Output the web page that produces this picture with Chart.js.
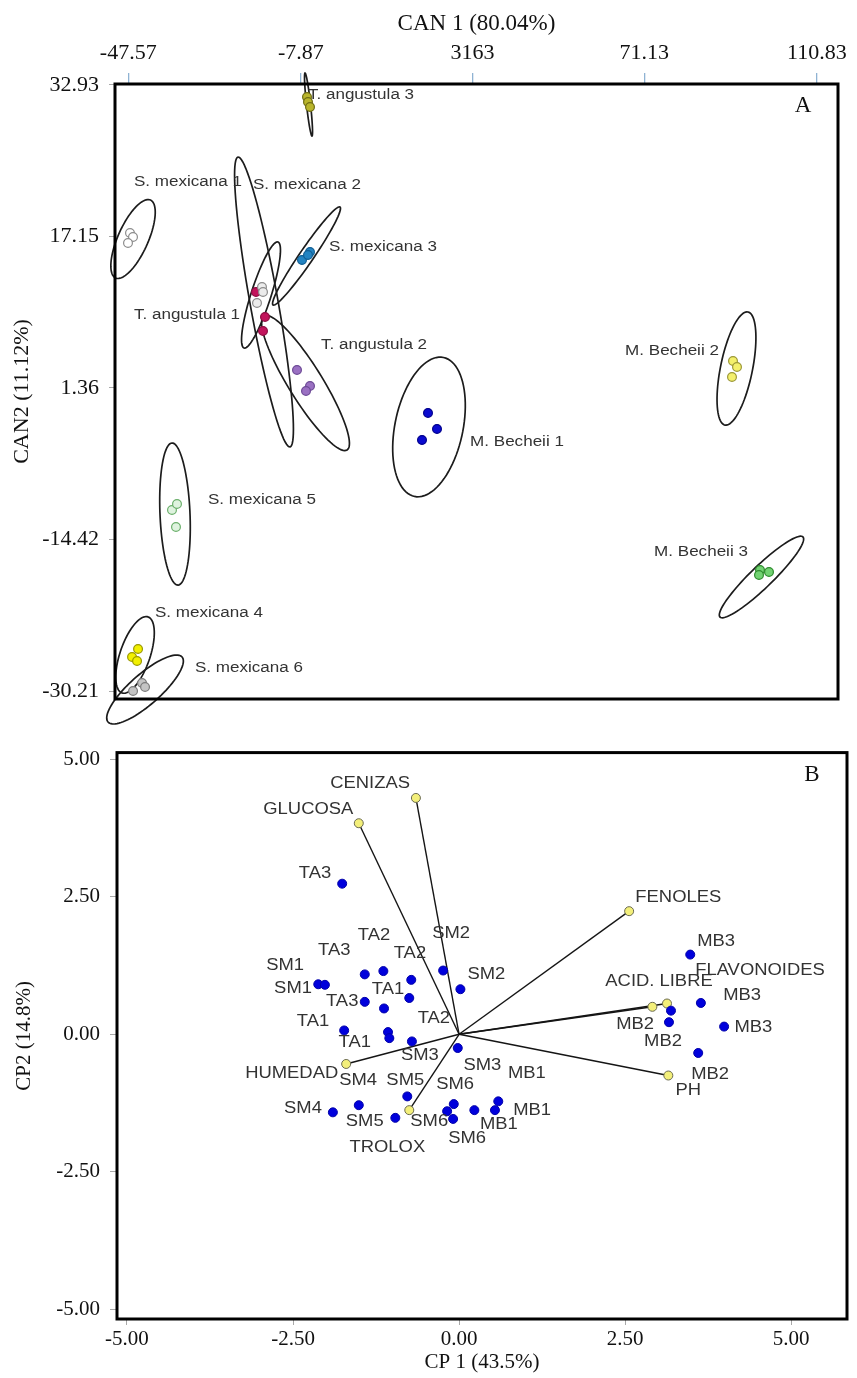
<!DOCTYPE html>
<html>
<head>
<meta charset="utf-8">
<script src="https://cdn.jsdelivr.net/npm/chart.js@4.4.1/dist/chart.umd.min.js"></script>
<style>
  body { margin: 0; background: #fff; }
  canvas { position: absolute; left: 0; }
  #chartA { top: 0; }
  #chartB { top: 730px; }
</style>
</head>
<body>
<canvas id="chartA" width="857" height="730"></canvas>
<canvas id="chartB" width="857" height="648"></canvas>
<script>
// ---- panel A: canonical scores ----
var groupNamesA = ['T. angustula 3', 'S. mexicana 1', 'S. mexicana 2', 'S. mexicana 3', 'T. angustula 1', 'T. angustula 2',
  'M. Becheii 1', 'S. mexicana 5', 'M. Becheii 2', 'M. Becheii 3', 'S. mexicana 4', 'S. mexicana 6'];
var groupXA = [
  [-6.46, -6.23, -5.77], [-47.17, -46.48, -47.63], [-16.81, -16.58, -17.96], [-7.61, -5.77, -6.23],
  [-18.19, -16.12, -16.58], [-8.76, -5.77, -6.69], [21.37, 23.44, 19.99], [-37.51, -36.36, -36.59],
  [91.52, 92.44, 91.29], [97.73, 99.80, 97.50], [-45.32, -46.70, -45.55], [-44.40, -43.71, -46.47]
];
var groupYA = [
  [31.67, 31.15, 30.63], [17.51, 17.09, 16.46], [11.88, 11.36, 10.21], [14.69, 15.53, 15.21],
  [11.36, 8.76, 7.30], [3.24, 1.57, 1.05], [-1.24, -2.91, -4.06], [-11.35, -10.72, -13.12],
  [4.17, 3.55, 2.51], [-17.60, -17.81, -18.12], [-25.83, -26.66, -27.08], [-29.37, -29.79, -30.20]
];
// confidence ellipses: centre, half major axis, half minor axis (data units)
var ellCenterA = [[-6.11, 30.89], [-46.47, 16.88], [-16.35, 10.32], [-6.57, 15.11], [-17.04, 11.05], [-6.80, 1.88],
  [21.60, -2.70], [-36.82, -11.77], [92.32, 3.39], [98.07, -18.33], [-46.01, -26.45], [-43.71, -30.05]];
var ellMajorA = [[0.80, -3.28], [4.02, 4.06], [5.98, -15.10], [7.70, 5.10], [3.91, 5.52], [9.54, -6.98],
  [3.33, 7.24], [0.69, -7.40], [2.64, 5.89], [9.54, 4.17], [2.99, 3.96], [8.51, 3.39]];
var ellMinorA = [[0.46, 0.02], [3.15, -0.65], [3.17, 0.26], [1.33, -0.41], [2.18, -0.32], [3.32, 0.93],
  [7.66, -0.72], [3.45, 0.06], [3.61, -0.33], [1.75, -0.82], [3.27, -0.50], [2.30, -1.19]];
var labelXA = [5.96, -33.83, -6.46, 11.02, -34.06, 8.95, 41.84, -16.81, 77.49, 84.16, -29.00, -19.80];
var labelYA = [31.88, 22.82, 22.51, 16.05, 8.96, 5.84, -4.27, -10.31, 5.21, -15.72, -22.08, -27.81];
var xTicksA = [-47.57, -7.87, 31.63, 71.13, 110.83];
var xTickLabelsA = ['-47.57', '-7.87', '3163', '71.13', '110.83'];
var yTicksA = [32.93, 17.15, 1.36, -14.42, -30.21];

// ---- panel B: PCA biplot ----
var scoreX = [-1.76, -1.42, -1.14, -0.72, -0.24, 0.02, -2.12, -2.02, -1.42, -1.13, -0.75, -1.73, -1.07, -1.05, -0.71, -0.02,
  -0.78, -1.90, -1.51, -0.96, -0.08, -0.18, -0.09, 0.23, 0.59, 0.54, 3.48, 3.64, 3.99, 3.19, 3.16, 3.60];
var scoreY = [2.74, 1.09, 1.15, 0.99, 1.16, 0.82, 0.91, 0.90, 0.59, 0.47, 0.66, 0.07, 0.04, -0.07, -0.13, -0.25,
  -1.13, -1.42, -1.29, -1.52, -1.27, -1.40, -1.54, -1.38, -1.22, -1.38, 1.45, 0.57, 0.14, 0.43, 0.22, -0.34];
var sampleLabels = ['TA3', 'MB3', 'MB3', 'MB2', 'MB3', 'MB2', 'MB2', 'TA2', 'SM2', 'TA3', 'TA2', 'SM1', 'SM2', 'SM1', 'TA1', 'TA3',
  'TA2', 'TA1', 'TA1', 'SM3', 'SM3', 'MB1', 'SM4', 'SM5', 'SM6', 'SM4', 'MB1', 'SM5', 'SM6', 'MB1', 'SM6'];
var sampleLabelX = [-2.17, 3.87, 4.26, 2.65, 4.43, 3.07, 3.78, -1.28, -0.12, -1.88, -0.74, -2.62, 0.41, -2.50, -1.07, -1.76,
  -0.38, -2.20, -1.57, -0.59, 0.35, 1.02, -1.52, -0.81, -0.06, -2.35, 1.10, -1.42, -0.45, 0.60, 0.12];
var sampleLabelY = [2.92, 1.68, 0.70, 0.18, 0.13, -0.13, -0.73, 1.79, 1.83, 1.52, 1.47, 1.25, 1.09, 0.84, 0.82, 0.59,
  0.29, 0.23, -0.16, -0.39, -0.57, -0.72, -0.84, -0.84, -0.91, -1.36, -1.38, -1.58, -1.59, -1.65, -1.90];
var vectorNames = ['CENIZAS', 'GLUCOSA', 'FENOLES', 'ACID. LIBRE', 'FLAVONOIDES', 'PH', 'HUMEDAD', 'TROLOX'];
var vectorX = [-0.65, -1.51, 2.56, 2.91, 3.13, 3.15, -1.70, -0.75];
var vectorY = [4.30, 3.84, 2.24, 0.50, 0.56, -0.75, -0.54, -1.38];
var vectorLabelX = [-1.34, -2.27, 3.30, 3.01, 4.53, 3.45, -2.52, -1.08];
var vectorLabelY = [4.57, 4.09, 2.49, 0.95, 1.16, -1.02, -0.72, -2.06];
var ticksB = [-5, -2.5, 0, 2.5, 5];

var fillA = ['#b9b52c', '#ffffff', '#ececec', '#2384c2', '#c2145c', '#9a70c2', '#0a0ad0', '#dff3df',
  '#f4f06c', '#72d272', '#f2f000', '#c4c4c4'];
var edgeA = ['#6f6d14', '#8c8c8c', '#8c8c8c', '#135f93', '#8e0e42', '#6d4a96', '#00008c', '#6cb06c',
  '#9c9838', '#2e8c2e', '#9c9a00', '#7c7c7c'];

var serif = '"Liberation Serif", "Times New Roman", serif';
var sans = '"Liberation Sans", Arial, sans-serif';

function ellipsePlugin(centers, majors, minors) {
  return {
    id: 'ellipses',
    beforeDatasetsDraw: function (chart) {
      var ctx = chart.ctx, sx = chart.scales.x, sy = chart.scales.y;
      ctx.save();
      ctx.strokeStyle = '#1c1c1c';
      ctx.lineWidth = 1.7;
      centers.forEach(function (c, i) {
        var cx = sx.getPixelForValue(c[0]), cy = sy.getPixelForValue(c[1]);
        var ux = sx.getPixelForValue(c[0] + majors[i][0]) - cx, uy = sy.getPixelForValue(c[1] + majors[i][1]) - cy;
        var vx = sx.getPixelForValue(c[0] + minors[i][0]) - cx, vy = sy.getPixelForValue(c[1] + minors[i][1]) - cy;
        ctx.beginPath();
        for (var k = 0; k <= 90; k++) {
          var t = k / 90 * 2 * Math.PI;
          var px = cx + ux * Math.cos(t) + vx * Math.sin(t);
          var py = cy + uy * Math.cos(t) + vy * Math.sin(t);
          if (k === 0) ctx.moveTo(px, py); else ctx.lineTo(px, py);
        }
        ctx.closePath();
        ctx.stroke();
      });
      ctx.restore();
    }
  };
}

function labelPlugin(texts, xs, ys, size, stretch) {
  return {
    id: 'pointLabels',
    afterDatasetsDraw: function (chart) {
      var ctx = chart.ctx, sx = chart.scales.x, sy = chart.scales.y;
      ctx.save();
      ctx.fillStyle = '#333333';
      ctx.font = size + 'px ' + sans;
      ctx.textAlign = 'center';
      ctx.textBaseline = 'middle';
      texts.forEach(function (t, i) {
        ctx.save();
        ctx.translate(sx.getPixelForValue(xs[i]), sy.getPixelForValue(ys[i]));
        ctx.scale(stretch, 1);
        ctx.fillText(t, 0, 0);
        ctx.restore();
      });
      ctx.restore();
    }
  };
}

function framePlugin(letter) {
  return {
    id: 'frame',
    afterDraw: function (chart) {
      var ctx = chart.ctx, a = chart.chartArea;
      ctx.save();
      ctx.strokeStyle = '#000';
      ctx.lineWidth = 3;
      ctx.strokeRect(a.left, a.top, a.right - a.left, a.bottom - a.top);
      ctx.fillStyle = '#111';
      ctx.font = '23px ' + serif;
      ctx.textAlign = 'center';
      ctx.textBaseline = 'middle';
      ctx.fillText(letter, a.right - 35, a.top + 22);
      ctx.restore();
    }
  };
}

function fixedTicks(list) {
  return function (scale) {
    scale.ticks = list.map(function (v) { return { value: v }; });
  };
}

var datasetsA = groupNamesA.map(function (name, i) {
  return {
    label: name,
    data: groupXA[i].map(function (x, j) { return { x: x, y: groupYA[i][j] }; }),
    backgroundColor: fillA[i],
    borderColor: edgeA[i],
    borderWidth: 1.2,
    pointRadius: 4.4
  };
});

new Chart(document.getElementById('chartA').getContext('2d'), {
  type: 'scatter',
  data: { datasets: datasetsA },
  options: {
    responsive: false,
    animation: false,
    layout: { padding: { top: 0, right: 19, bottom: 31, left: 0 } },
    plugins: { legend: { display: false }, tooltip: { enabled: false } },
    scales: {
      x: {
        type: 'linear', position: 'top', min: -50.62, max: 115.67,
        afterBuildTicks: fixedTicks(xTicksA),
        afterFit: function (s) { s.height = 84; },
        ticks: {
          autoSkip: false, maxRotation: 0, padding: 7, color: '#111',
          font: { family: serif, size: 22 },
          callback: function (v, i) { return xTickLabelsA[i]; }
        },
        grid: { drawOnChartArea: false, tickLength: 11, color: '#8fb3d3', lineWidth: 1.3 },
        border: { display: false },
        title: { display: true, text: 'CAN 1 (80.04%)', color: '#111', font: { family: serif, size: 23 }, padding: { top: 10, bottom: 0 } }
      },
      y: {
        type: 'linear', min: -31.04, max: 33.03,
        afterBuildTicks: fixedTicks(yTicksA),
        afterFit: function (s) { s.width = 115; },
        ticks: {
          autoSkip: false, padding: 10, color: '#111',
          font: { family: serif, size: 22 },
          callback: function (v) { return v.toFixed(2); }
        },
        grid: { drawOnChartArea: false, tickLength: 6, color: '#a8a8a8' },
        border: { display: false },
        title: { display: true, text: 'CAN2 (11.12%)', color: '#111', font: { family: serif, size: 22 }, padding: { top: 9, bottom: 0 } }
      }
    }
  },
  plugins: [ellipsePlugin(ellCenterA, ellMajorA, ellMinorA), labelPlugin(groupNamesA, labelXA, labelYA, 15.5, 1.1), framePlugin('A')]
});

var datasetsB = [{
  label: 'scores',
  data: scoreX.map(function (x, i) { return { x: x, y: scoreY[i] }; }),
  backgroundColor: '#0000dc',
  borderColor: '#0000a8',
  borderWidth: 1,
  pointRadius: 4.5
}];
vectorNames.forEach(function (name, i) {
  datasetsB.push({
    label: name,
    data: [{ x: 0, y: 0 }, { x: vectorX[i], y: vectorY[i] }],
    showLine: true,
    borderColor: '#151515',
    borderWidth: 1.4,
    pointRadius: [0, 4.5],
    pointBackgroundColor: '#f3ef7a',
    pointBorderColor: '#6a6a50',
    pointBorderWidth: 1
  });
});

new Chart(document.getElementById('chartB').getContext('2d'), {
  type: 'scatter',
  data: { datasets: datasetsB },
  options: {
    responsive: false,
    animation: false,
    layout: { padding: { top: 14, right: 10, bottom: 0, left: 0 } },
    plugins: { legend: { display: false }, tooltip: { enabled: false } },
    scales: {
      x: {
        type: 'linear', min: -5.15, max: 5.84,
        afterBuildTicks: fixedTicks(ticksB),
        afterFit: function (s) { s.height = 59; },
        ticks: {
          autoSkip: false, maxRotation: 0, padding: 2, color: '#111',
          font: { family: serif, size: 21 },
          callback: function (v) { return v.toFixed(2); }
        },
        grid: { drawOnChartArea: false, tickLength: 6, color: '#a8a8a8' },
        border: { display: false },
        title: { display: true, text: 'CP 1 (43.5%)', color: '#111', font: { family: serif, size: 21 }, padding: { top: 0, bottom: 3 } }
      },
      y: {
        type: 'linear', min: -5.18, max: 5.125,
        afterBuildTicks: fixedTicks(ticksB),
        afterFit: function (s) { s.width = 117; },
        ticks: {
          autoSkip: false, padding: 10, color: '#111',
          font: { family: serif, size: 21 },
          callback: function (v) { return v.toFixed(2); }
        },
        grid: { drawOnChartArea: false, tickLength: 7, color: '#a8a8a8' },
        border: { display: false },
        title: { display: true, text: 'CP2 (14.8%)', color: '#111', font: { family: serif, size: 21 }, padding: { top: 12, bottom: 0 } }
      }
    }
  },
  plugins: [
    labelPlugin(sampleLabels, sampleLabelX, sampleLabelY, 16, 1.15),
    labelPlugin(vectorNames, vectorLabelX, vectorLabelY, 16, 1.15),
    framePlugin('B')
  ]
});
</script>
</body>
</html>
